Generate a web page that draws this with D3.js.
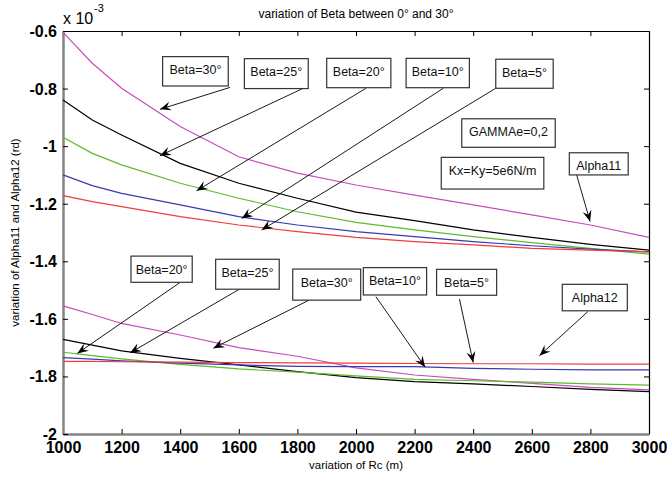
<!DOCTYPE html>
<html>
<head>
<meta charset="utf-8">
<script src="https://cdn.jsdelivr.net/npm/d3@7"></script>
<style>
  body { margin: 0; background: #fff; }
  svg { display: block; font-family: "Liberation Sans", Arial, sans-serif; }
</style>
</head>
<body>
<svg></svg>
<script>
// radius of curvature Rc (m)
let rc = [1000, 1100, 1200, 1400, 1600, 1800, 2000, 2200, 2400, 2600, 2800, 3000];

// Alpha11 (x 1e-3 rd) for each Beta
let alpha11Beta30 = [-0.605, -0.712, -0.799, -0.932, -1.037, -1.094, -1.135, -1.170, -1.204, -1.239, -1.274, -1.317];
let alpha11Beta25 = [-0.840, -0.909, -0.961, -1.060, -1.129, -1.181, -1.229, -1.259, -1.291, -1.317, -1.341, -1.361];
let alpha11Beta20 = [-0.969, -1.025, -1.065, -1.129, -1.181, -1.228, -1.265, -1.291, -1.314, -1.335, -1.355, -1.375];
let alpha11Beta10 = [-1.100, -1.137, -1.164, -1.204, -1.245, -1.274, -1.297, -1.314, -1.332, -1.346, -1.358, -1.367];
let alpha11Beta5 = [-1.172, -1.193, -1.210, -1.245, -1.274, -1.297, -1.317, -1.332, -1.343, -1.355, -1.361, -1.367];

// Alpha12 (x 1e-3 rd) for each Beta
let alpha12Beta30 = [-1.555, -1.585, -1.616, -1.656, -1.700, -1.730, -1.770, -1.795, -1.810, -1.824, -1.838, -1.847];
let alpha12Beta25 = [-1.671, -1.691, -1.711, -1.737, -1.760, -1.783, -1.804, -1.818, -1.826, -1.835, -1.845, -1.853];
let alpha12Beta20 = [-1.716, -1.728, -1.739, -1.758, -1.774, -1.785, -1.798, -1.810, -1.815, -1.820, -1.826, -1.830];
let alpha12Beta10 = [-1.735, -1.740, -1.746, -1.754, -1.760, -1.765, -1.766, -1.766, -1.772, -1.775, -1.777, -1.777];
let alpha12Beta5 = [-1.748, -1.748, -1.749, -1.750, -1.752, -1.753, -1.754, -1.755, -1.756, -1.756, -1.757, -1.757];

let xTicks = [1000, 1200, 1400, 1600, 1800, 2000, 2200, 2400, 2600, 2800, 3000];
let yTicks = [-2, -1.8, -1.6, -1.4, -1.2, -1, -0.8, -0.6];
let yTickLabels = ["-2", "-1.8", "-1.6", "-1.4", "-1.2", "-1", "-0.8", "-0.6"];

let series = [
  { values: alpha11Beta30, color: "#c64cbc" },
  { values: alpha11Beta25, color: "#000000" },
  { values: alpha11Beta20, color: "#5cbc2c" },
  { values: alpha11Beta10, color: "#3a3ab0" },
  { values: alpha11Beta5, color: "#f03c3c" },
  { values: alpha12Beta30, color: "#c64cbc" },
  { values: alpha12Beta25, color: "#000000" },
  { values: alpha12Beta20, color: "#5cbc2c" },
  { values: alpha12Beta10, color: "#3a3ab0" },
  { values: alpha12Beta5, color: "#f03c3c" },
];

// text boxes and arrows, in data units: box [x0, y0, x1, y1], arrow [fromX, fromY, toX, toY]
let notes = [
  { text: "Beta=30°", box: [1340, -0.689, 1564, -0.791], arrow: [1570, -0.796, 1331, -0.872] },
  { text: "Beta=25°", box: [1619, -0.696, 1837, -0.800], arrow: [1820, -0.799, 1331, -1.033] },
  { text: "Beta=20°", box: [1900, -0.695, 2119, -0.797], arrow: [2034, -0.799, 1456, -1.155] },
  { text: "Beta=10°", box: [2171, -0.695, 2387, -0.797], arrow: [2298, -0.799, 1610, -1.251] },
  { text: "Beta=5°", box: [2477, -0.698, 2673, -0.799], arrow: [2477, -0.799, 1678, -1.291] },
  { text: "GAMMAe=0,2", box: [2361, -0.905, 2680, -1.004] },
  { text: "Kx=Ky=5e6N/m", box: [2291, -1.039, 2641, -1.149] },
  { text: "Alpha11", box: [2728, -1.023, 2929, -1.100], arrow: [2753, -1.100, 2799, -1.262] },
  { text: "Beta=20°", box: [1232, -1.382, 1441, -1.473], arrow: [1399, -1.474, 1049, -1.720] },
  { text: "Beta=25°", box: [1521, -1.393, 1738, -1.497], arrow: [1602, -1.497, 1229, -1.718] },
  { text: "Beta=30°", box: [1784, -1.427, 2016, -1.535], arrow: [1875, -1.517, 1513, -1.702] },
  { text: "Beta=10°", box: [2025, -1.422, 2241, -1.517], arrow: [2068, -1.523, 2236, -1.768] },
  { text: "Beta=5°", box: [2275, -1.428, 2480, -1.518], arrow: [2353, -1.531, 2400, -1.752] },
  { text: "Alpha12", box: [2704, -1.480, 2926, -1.572], arrow: [2791, -1.575, 2626, -1.728] },
];

let width = 667;
let height = 477;
let plotLeft = 63, plotRight = 649, plotTop = 31, plotBottom = 434;

let svg = d3.select("svg").attr("width", width).attr("height", height);

let xScale = d3.scaleLinear().domain([1000, 3000]).range([plotLeft, plotRight]);
let yScale = d3.scaleLinear().domain([-2, -0.6]).range([plotBottom, plotTop]);

svg.append("rect").attr("width", width).attr("height", height).attr("fill", "#fff");

// arrow head like matlab's
svg.append("defs").append("marker")
  .attr("id", "head")
  .attr("viewBox", "-12 -5 13 10")
  .attr("markerWidth", 13)
  .attr("markerHeight", 10)
  .attr("markerUnits", "userSpaceOnUse")
  .attr("refX", 0)
  .attr("refY", 0)
  .attr("orient", "auto")
  .append("path")
  .attr("d", "M0,0 L-11,-4.5 L-7,0 L-11,4.5 Z")
  .attr("fill", "#000");

// axes: ticks point inwards
let xAxis = d3.axisBottom(xScale).tickValues(xTicks).tickSize(-5).tickSizeOuter(0).tickPadding(8).tickFormat(d3.format("d"));
let yAxis = d3.axisLeft(yScale).tickValues(yTicks).tickSize(-5).tickSizeOuter(0).tickPadding(6)
  .tickFormat((d, i) => yTickLabels[i]);
let topAxis = d3.axisTop(xScale).tickValues(xTicks).tickSize(-5).tickSizeOuter(0).tickFormat("");
let rightAxis = d3.axisRight(yScale).tickValues(yTicks).tickSize(-5).tickSizeOuter(0).tickFormat("");

let gTop = svg.append("g").attr("transform", "translate(0," + plotTop + ")").call(topAxis);
let gRight = svg.append("g").attr("transform", "translate(" + plotRight + ",0)").call(rightAxis);
let gx = svg.append("g").attr("transform", "translate(0," + plotBottom + ")").call(xAxis);
let gy = svg.append("g").attr("transform", "translate(" + plotLeft + ",0)").call(yAxis);

[gTop, gRight].forEach((g) => {
  g.select(".domain").attr("stroke", "#000").attr("stroke-width", 1.2);
  g.selectAll(".tick line").attr("stroke", "#000");
});
[gx, gy].forEach((g) => {
  g.select(".domain").attr("stroke", "#858585").attr("stroke-width", 2.5);
  g.selectAll(".tick line").attr("stroke", "#000");
  g.selectAll(".tick text")
    .attr("fill", "#000")
    .style("font-family", '"Liberation Sans", Arial, sans-serif')
    .style("font-size", "16px")
    .style("font-weight", "bold");
});
gy.selectAll(".tick text").attr("dy", "0.34em");

// curves
let line = d3.line()
  .x((d, i) => xScale(rc[i]))
  .y((d) => yScale(d));

svg.append("g")
  .selectAll("path")
  .data(series)
  .enter()
  .append("path")
  .attr("d", (s) => line(s.values))
  .attr("fill", "none")
  .attr("stroke", (s) => s.color)
  .attr("stroke-width", 1.2);

// annotations
let noteG = svg.append("g")
  .selectAll("g")
  .data(notes)
  .enter()
  .append("g");

noteG.filter((n) => n.arrow)
  .append("line")
  .attr("x1", (n) => xScale(n.arrow[0]))
  .attr("y1", (n) => yScale(n.arrow[1]))
  .attr("x2", (n) => xScale(n.arrow[2]))
  .attr("y2", (n) => yScale(n.arrow[3]))
  .attr("stroke", "#000")
  .attr("stroke-width", 0.9)
  .attr("marker-end", "url(#head)");

noteG.append("rect")
  .attr("x", (n) => xScale(n.box[0]))
  .attr("y", (n) => yScale(n.box[1]))
  .attr("width", (n) => xScale(n.box[2]) - xScale(n.box[0]))
  .attr("height", (n) => yScale(n.box[3]) - yScale(n.box[1]))
  .attr("fill", "#fff")
  .attr("stroke", "#333")
  .attr("stroke-width", 1.2);

noteG.append("text")
  .attr("x", (n) => (xScale(n.box[0]) + xScale(n.box[2])) / 2)
  .attr("y", (n) => yScale(n.box[1]) + 17.5)
  .attr("text-anchor", "middle")
  .attr("font-size", "12.5px")
  .attr("fill", "#111")
  .text((n) => n.text);

// title, exponent, axis labels
svg.append("text")
  .attr("x", (plotLeft + plotRight) / 2)
  .attr("y", 18)
  .attr("text-anchor", "middle")
  .attr("font-size", "12px")
  .text("variation of Beta between 0° and 30°");

svg.append("text")
  .attr("x", plotLeft)
  .attr("y", 24)
  .attr("font-size", "16px")
  .text("x 10");

svg.append("text")
  .attr("x", 94)
  .attr("y", 12)
  .attr("font-size", "11px")
  .text("-3");

svg.append("text")
  .attr("x", (plotLeft + plotRight) / 2)
  .attr("y", 469)
  .attr("text-anchor", "middle")
  .attr("font-size", "11.5px")
  .text("variation of Rc (m)");

svg.append("text")
  .attr("transform", "translate(19," + (plotTop + plotBottom) / 2 + ") rotate(-90)")
  .attr("text-anchor", "middle")
  .attr("font-size", "11.5px")
  .text("variation of Alpha11 and Alpha12 (rd)");
</script>
</body>
</html>
